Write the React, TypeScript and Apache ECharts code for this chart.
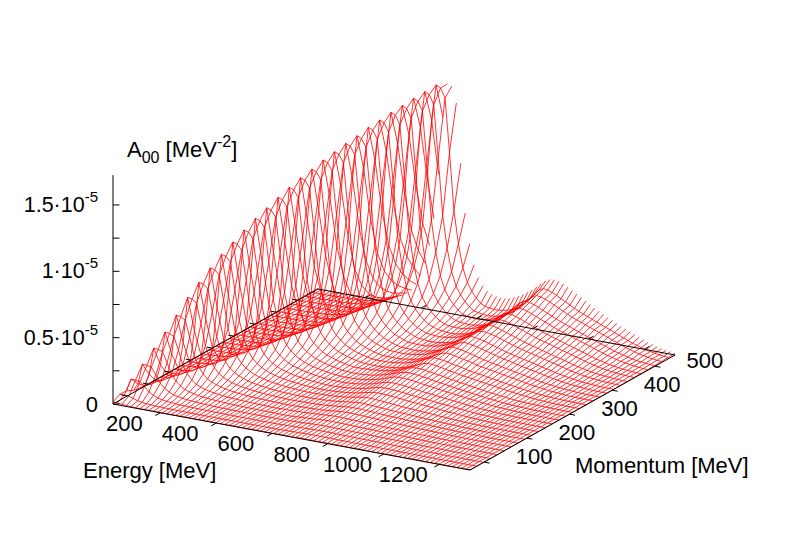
import React, { useEffect, useRef } from "react";
import * as echarts from "echarts";

const energyMin = 30, energyMax = 1310, energyStep = 16;
const momentumMin = 67, momentumMax = 547, momentumStep = 16;
const energyTicks = [200, 400, 600, 800, 1000, 1200];
const momentumTicks = [100, 200, 300, 400, 500];
const momentumMirrorTicks = [100, 150, 200, 250, 300, 350, 400, 450, 500];
const heightTicks = [0, 25, 50, 75, 100, 125, 150];
const heightLabels: [number, string, string][] = [[0, "0", ""], [50, "0.5·10", "-5"], [100, "1·10", "-5"], [150, "1.5·10", "-5"]];

// spectral function, in units of 1e-8 MeV^-2; one list per momentum, one entry per energy
const a00 = [15,14,10,7,5,3,3,2,2,1, 1,1,1,1,1,1,1,1,1,1, 1,1,1,1,1,1,1,1,1,1, 1,1,1,1,1,1,2,2,2,2, 3,3,4,4,4,4,3,3,3,3, 3,3,2,2,2,2,2,2,1,1, 1,1,1,1,1,1,1,1,1,1, 0,0,0,0,0,0,0,0,0,0, 0];
const a01 = [45,45,43,32,20,14,10,8,6,5, 4,3,3,2,2,2,2,1,1,1, 1,1,1,1,1,1,1,1,1,1, 1,1,1,1,1,1,2,3,3,4, 5,6,7,7,7,7,6,6,6,5, 5,5,4,4,4,3,3,3,3,2, 2,2,1,1,1,1,1,1,0,0, 0,0,0,0,0,0,0,0,0,0, 0];
const a02 = [41,136,135,129,98,64,45,31,23,18, 15,12,10,9,7,7,6,5,5,4, 4,3,3,3,2,2,2,2,2,2, 2,2,2,2,2,3,4,5,6,7, 8,9,10,11,11,10,10,9,9,8, 8,7,7,6,6,5,5,5,4,4, 3,3,2,2,2,1,1,1,1,1, 1,0,0,0,0,0,0,0,0,0, 0];
const a03 = [16,72,226,224,215,163,106,75,52,38, 31,25,20,17,15,12,11,9,8,7, 6,6,5,5,4,4,3,3,3,3, 3,3,3,3,4,4,6,7,8,10, 12,13,14,14,14,13,13,12,12,11, 10,10,9,8,8,7,7,6,6,5, 5,4,4,3,3,2,2,1,1,1, 1,1,0,0,0,0,0,0,0,0, 0];
const a04 = [6,29,120,324,321,308,233,152,107,75, 55,44,36,29,24,21,18,16,14,12, 10,9,8,7,6,6,5,5,4,4, 4,3,3,3,4,5,9,10,12,14, 17,19,20,20,19,19,18,17,16,15, 14,13,13,12,11,10,10,9,8,8, 7,6,5,4,4,3,3,2,2,2, 1,1,1,1,1,0,0,0,0,0, 0];
const a05 = [4,13,42,169,422,418,401,304,198,139, 97,72,57,46,38,32,27,23,20,18, 15,14,12,11,9,8,8,7,6,5, 7,7,7,8,10,10,12,14,16,19, 21,23,25,25,24,23,22,21,20,19, 17,16,15,14,13,12,11,10,9,8, 7,6,5,4,4,3,2,2,1,1, 1,1,1,1,1,1,1,1,0,0, 0];
const a06 = [4,6,18,63,227,528,523,502,380,248, 174,121,90,71,58,48,40,34,29,25, 22,19,17,15,13,12,11,10,9,8, 8,8,9,10,11,12,14,15,17,20, 24,27,30,32,32,31,30,28,27,25, 23,21,20,19,17,16,15,13,12,11, 10,9,8,7,6,5,4,3,3,2, 2,1,1,1,1,1,1,1,1,1, 1];
const a07 = [4,5,10,26,83,293,638,632,606,459, 300,211,147,108,86,70,57,48,41,35, 31,27,23,20,18,16,14,13,11,10, 11,11,12,12,13,14,17,18,21,25, 28,33,37,38,38,37,35,33,32,29, 27,25,24,23,21,19,17,16,15,13, 12,10,9,8,7,6,5,4,4,3, 2,2,2,1,1,1,1,1,1,1, 1];
const a08 = [4,5,7,13,31,109,357,729,722,693, 525,343,241,168,124,98,80,66,55,47, 40,35,31,26,23,20,18,16,15,13, 14,14,13,15,16,17,20,22,24,29, 34,38,43,46,46,43,42,40,37,35, 32,30,28,27,25,23,21,19,17,16, 14,12,11,9,8,6,5,4,4,3, 2,2,2,2,1,1,1,1,1,1, 1];
const a09 = [3,5,7,10,16,37,139,424,816,808, 775,588,384,269,188,139,110,90,73,61, 53,45,39,34,29,26,24,21,18,16, 15,15,16,18,19,20,23,26,29,34, 40,46,52,56,56,54,52,49,46,43, 40,37,35,33,31,28,26,24,22,19, 17,15,13,11,9,7,6,5,4,3, 3,2,2,2,2,1,1,1,1,1, 1];
const a10 = [3,4,6,9,13,22,45,179,492,895, 886,850,644,421,295,206,152,121,98,81, 67,58,49,43,37,32,29,25,23,20, 18,17,17,18,20,22,25,28,32,38, 44,52,59,66,68,67,66,63,60,56, 53,49,46,44,41,38,35,32,29,26, 23,21,18,15,13,10,9,7,6,4, 3,3,2,2,2,2,1,1,1,1, 1];
const a11 = [3,4,5,8,11,15,24,58,212,560, 965,955,917,695,454,318,222,164,130,106, 87,72,63,53,46,40,35,31,27,25, 22,20,19,20,22,24,27,31,36,42, 49,58,67,74,77,76,74,71,68,64, 60,56,53,49,46,43,39,36,33,30, 27,23,20,17,14,12,10,8,6,5, 4,3,3,2,2,2,1,1,1,1, 1];
const a12 = [3,4,5,7,9,12,18,31,77,258, 619,1032,1022,980,743,485,341,237,175,139, 113,93,77,67,57,50,43,37,33,29, 26,24,23,23,25,27,30,35,40,47, 55,66,76,85,88,87,85,81,77,73, 68,64,60,56,52,48,45,41,37,33, 30,26,23,19,16,13,11,9,7,5, 5,4,3,3,2,2,2,1,1,1, 1];
const a13 = [3,4,5,8,10,13,20,27,44,110, 296,681,1098,1087,1043,791,516,362,253,187, 149,121,99,82,71,60,53,46,40,35, 31,28,26,27,28,30,33,38,44,52, 61,72,84,95,100,100,98,95,90,85, 80,75,70,66,61,57,52,48,44,40, 36,32,28,24,20,17,14,12,10,8, 6,5,4,3,2,2,2,2,1,1, 1];
const a14 = [3,5,6,7,9,12,16,23,32,58, 127,347,739,1155,1143,1097,832,543,381,266, 196,156,127,104,87,75,64,55,49,42, 37,33,31,31,32,35,38,43,50,58, 68,78,90,100,108,110,108,104,99,94, 88,82,77,72,67,62,57,52,48,43, 39,34,30,26,22,18,15,12,10,8, 7,5,4,3,3,2,2,2,1,1, 1];
const a15 = [4,4,5,6,8,11,15,19,28,41, 70,157,388,793,1211,1199,1150,872,569,400, 279,206,163,133,109,91,79,67,58,51, 44,38,39,38,41,42,46,49,54,60, 66,77,90,104,114,118,117,113,108,102, 97,91,85,79,74,68,64,58,53,48, 43,38,34,29,25,21,17,14,11,9, 7,6,5,4,3,3,2,2,1,1, 1];
const a16 = [4,4,5,6,8,10,13,16,23,33, 51,82,190,442,847,1264,1251,1201,910,594, 417,291,215,171,139,114,95,82,70,61, 53,46,42,41,40,40,42,46,49,54, 60,70,81,95,109,122,130,128,123,118, 110,104,98,91,85,81,76,70,65,60, 56,50,45,40,35,31,26,22,19,14, 12,9,7,5,3,2,2,1,1,1, 1];
const a17 = [3,3,4,5,7,8,11,13,18,26, 39,62,99,223,486,907,1314,1301,1248,946, 618,434,302,223,177,145,118,99,85,72, 63,55,48,46,46,46,47,51,56,61, 68,78,90,104,121,135,143,140,136,130, 122,115,109,100,93,88,83,78,71,66, 61,55,50,44,39,33,28,24,20,15, 13,10,8,6,4,3,2,2,1,1, 1];
const a18 = [3,4,4,5,7,8,9,12,16,22, 33,47,75,122,271,542,963,1356,1342,1288, 976,637,447,312,231,183,149,122,102,88, 75,65,57,49,50,48,49,50,55,59, 66,74,85,97,114,133,147,156,155,148, 141,134,126,119,109,102,96,91,85,78, 72,66,61,55,48,42,36,31,26,22, 16,14,11,9,6,4,3,2,2,1, 1];
const a19 = [3,4,4,6,7,8,10,13,15,20, 27,38,56,87,147,308,589,1023,1402,1388, 1332,1009,659,463,322,238,189,154,126,105, 91,77,67,59,58,56,55,57,61,66, 73,81,93,107,125,145,162,172,168,164, 156,146,138,129,120,113,106,100,93,85, 79,72,66,60,52,46,40,33,28,24, 18,15,12,9,7,4,3,2,2,1, 1];
const a20 = [3,4,4,6,7,7,9,12,13,17, 22,29,43,65,101,173,361,649,1082,1442, 1428,1370,1038,678,476,332,245,195,159,130, 108,94,80,69,61,61,58,57,60,65, 71,78,87,100,116,135,158,175,186,183, 176,169,160,151,140,132,122,115,108,101, 92,85,78,71,65,58,50,43,36,31, 25,19,16,12,10,7,4,3,2,2, 1];
const a21 = [3,3,4,4,6,7,9,10,12,15, 19,25,36,50,77,122,207,400,697,1134, 1482,1467,1408,1067,697,489,341,252,200,163, 133,111,96,82,71,69,66,66,67,73, 78,86,97,110,126,148,172,191,203,199, 192,185,174,164,154,144,133,125,117,109, 102,94,87,77,70,62,55,47,39,33, 27,22,17,13,10,8,5,3,2,2, 1];
const a22 = [3,5,5,6,6,8,9,11,12,15, 18,23,30,42,61,91,144,243,440,743, 1183,1517,1502,1441,1092,713,501,349,258,205, 167,137,114,99,84,75,74,69,69,70, 77,82,91,102,117,136,158,184,206,218, 215,207,199,188,177,165,155,144,136,126, 118,110,101,93,84,76,68,60,50,42, 35,29,22,18,14,11,8,6,5,3, 2];
const a23 = [3,3,5,5,6,6,8,9,11,14, 17,20,26,36,50,73,108,171,280,467, 779,1231,1558,1542,1480,1122,732,514,358,265, 210,171,140,117,102,88,84,80,78,81, 86,92,100,112,129,148,172,200,223,236, 233,224,213,203,191,180,167,156,146,137, 128,118,109,100,90,82,73,64,53,45, 38,31,25,20,15,12,9,6,5,3, 2];
const a24 = [3,5,5,6,6,8,8,10,11,14, 17,21,25,33,45,60,87,127,199,318, 509,827,1272,1590,1574,1511,1145,747,525,366, 270,215,175,143,119,104,92,88,84,81, 84,90,97,106,119,138,157,183,215,238, 253,250,241,230,216,205,192,180,166,157, 147,138,126,117,107,98,88,78,69,59, 48,41,34,27,22,16,13,9,7,5, 4];
const a25 = [3,3,5,5,6,6,8,10,10,13, 16,20,24,31,39,54,73,102,150,228, 349,544,869,1316,1625,1609,1544,1170,764,536, 374,276,219,179,146,122,106,97,94,93, 95,100,107,117,130,150,171,199,232,257, 274,269,260,249,234,221,208,195,180,170, 158,148,138,126,116,106,95,85,74,63, 52,45,37,28,23,18,13,10,7,5, 4];
const a26 = [3,5,5,7,7,8,8,10,12,13, 15,18,23,28,36,46,63,86,121,174, 256,380,579,909,1355,1653,1636,1570,1190,777, 545,380,281,223,182,149,124,108,102,98, 96,98,105,111,123,137,158,182,211,247, 274,292,287,278,265,250,236,221,208,192, 181,168,158,147,135,124,113,101,90,78, 68,56,48,39,30,25,19,15,10,7, 5];
const a27 = [3,3,5,5,7,7,8,10,10,12, 13,17,20,25,32,42,54,72,98,135, 194,283,413,615,953,1399,1686,1669,1602,1214, 792,556,388,287,228,185,152,127,118,113, 110,112,116,124,134,150,171,197,228,266, 295,313,308,298,285,268,252,237,222,207, 193,182,168,156,145,132,120,108,96,85, 72,60,51,42,33,26,20,16,12,9, 6];
const a28 = [5,5,5,7,7,9,9,10,10,12, 14,17,21,24,29,38,48,62,82,110, 151,214,308,445,651,994,1439,1713,1696,1627, 1233,805,565,394,291,231,188,154,129,122, 116,113,115,121,129,141,158,181,208,242, 281,313,332,328,317,302,285,268,251,235, 218,205,192,180,166,154,141,128,116,102, 90,76,64,55,44,35,28,22,17,12, 9];
const a29 = [5,5,5,5,7,7,9,9,10,12, 14,16,19,23,28,35,44,54,70,92, 122,165,230,331,470,679,1027,1471,1741,1724, 1654,1253,818,574,400,296,235,192,157,140, 134,129,130,136,142,155,171,196,223,259, 302,335,355,350,338,323,304,287,268,250, 233,219,205,192,177,164,150,137,123,109, 95,82,68,58,47,37,30,23,18,13, 10];
const a30 = [5,5,7,7,7,9,9,10,10,12, 14,16,19,22,26,31,38,48,59,72, 95,121,173,242,345,483,690,1036,1467,1726, 1716,1595,1147,778,552,400,310,255,222,203, 192,188,190,198,210,226,245,268,292,320, 350,378,395,400,395,380,362,342,322,302, 282,262,242,224,207,190,174,158,143,128, 113,98,84,71,59,48,38,30,23,18, 13];
const surfaceRows = [a00,a01,a02,a03,a04,a05,a06,a07,a08,a09,a10,a11,a12,a13,a14,a15,a16,a17,a18,a19,a20,a21,a22,a23,a24,a25,a26,a27,a28,a29,a30];

// view: how the 3D box of gnuplot maps to the page
const project = (E: number, p: number, z: number): [number, number] => {
  const u = (E - energyMin) / (energyMax - energyMin);
  const v = (p - momentumMin) / (momentumMax - momentumMin);
  return [113 + 357 * u + 205 * v, 404 + 66 * u - 115 * v - z * 1.327];
};

const red = { color: "#ff0000", width: 0.8 };
const black = { color: "#000000", width: 1 };
const FONT = "'Liberation Sans', Arial, sans-serif";
const plain = { fontSize: 22, fontFamily: FONT, fill: "#000000", lineHeight: 32, verticalAlign: "middle" };
const plainTick = { ...plain, fontSize: 21.5 };
const sup = { fontSize: 16, fontFamily: FONT, fill: "#000000", lineHeight: 16, verticalAlign: "top" };
const supTick = { ...sup, fontSize: 15, lineHeight: 15 };
const sub = { fontSize: 16, fontFamily: FONT, fill: "#000000", lineHeight: 16, verticalAlign: "bottom" };

const lineSeries = (data: [number, number][], style: any, z: number) => ({
  type: "line", data, showSymbol: false, symbol: "none", silent: true, clip: false, z,
  lineStyle: style, animation: false,
});

function buildOption() {
  const series: any[] = [];
  // surface: the last momentum list only ends the constant-energy lines
  surfaceRows.slice(0, -1).forEach((row, j) => {
    const p = momentumMin + j * momentumStep;
    series.push(lineSeries(row.map((v, i) => project(energyMin + i * energyStep, p, v / 10)), red, 2));
  });
  a00.forEach((_, i) => {
    const E = energyMin + i * energyStep;
    series.push(lineSeries(surfaceRows.map((row, j) => project(E, momentumMin + j * momentumStep, row[i] / 10)), red, 2));
  });
  // box
  const c0 = project(energyMin, momentumMin, 0), c1 = project(energyMax, momentumMin, 0);
  const c2 = project(energyMax, momentumMax, 0), c3 = project(energyMin, momentumMax, 0);
  series.push(lineSeries([c0, c1, c2, c3, c0], black, 3));
  series.push(lineSeries([c0, project(energyMin, momentumMin, 172.5)], black, 3));
  heightTicks.forEach((t) => {
    const a = project(energyMin, momentumMin, t);
    series.push(lineSeries([a, [a[0] + 6.5, a[1]]], black, 3));
  });
  energyTicks.forEach((t) => {
    const a = project(t, momentumMin, 0), b = project(t, momentumMax, 0);
    series.push(lineSeries([a, [a[0] - 5, a[1] + 2.8]], black, 3));
    series.push(lineSeries([b, [b[0] + 5, b[1] - 2.8]], black, 3));
  });
  momentumTicks.forEach((t) => {
    const a = project(energyMax, t, 0);
    series.push(lineSeries([a, [a[0] + 5.5, a[1] + 1]], black, 3));
  });
  momentumMirrorTicks.forEach((t) => {
    const a = project(energyMin, t, 0);
    series.push(lineSeries([a, [a[0] - 5.5, a[1] - 1]], black, 3));
  });

  const text = (x: number, y: number, s: string, align: string, rich?: any) => ({
    type: "text", x, y, silent: true,
    style: { text: s, fontSize: 22, fontFamily: FONT, fill: "#000000", align, verticalAlign: "middle", rich },
  });
  const graphic: any[] = [];
  heightLabels.forEach(([v, a, b]) => {
    const y = project(energyMin, momentumMin, v)[1];
    graphic.push(b ? text(98, y, `{a|${a}}{u|${b}}`, "right", { a: plainTick, u: supTick }) : text(98, y, a, "right"));
  });
  energyTicks.forEach((t) => {
    const a = project(t, momentumMin, 0);
    graphic.push(text(a[0] - 36, a[1] + 10.5, String(t), "center"));
  });
  momentumTicks.forEach((t) => {
    const a = project(energyMax, t, 0);
    graphic.push(text(a[0] + 50, a[1] - 6, String(t), "center"));
  });
  graphic.push(text(83, 470, "Energy [MeV]", "left"));
  graphic.push(text(575, 465, "Momentum [MeV]", "left"));
  graphic.push(text(127, 149, "{a|A}{d|00}{a| [MeV}{u|-2}{a|]}", "left", { a: plain, d: sub, u: sup }));

  return {
    animation: false,
    backgroundColor: "#ffffff",
    grid: { left: 0, right: 0, top: 0, bottom: 0 },
    xAxis: { type: "value", min: 0, max: 789, show: false },
    yAxis: { type: "value", min: 0, max: 552, inverse: true, show: false },
    series,
    graphic,
  };
}

export default function App() {
  const ref = useRef<HTMLDivElement>(null);
  useEffect(() => {
    document.body.style.margin = "0";
    const chart = echarts.init(ref.current!, undefined, { renderer: "svg" });
    chart.setOption(buildOption() as any);
    return () => chart.dispose();
  }, []);
  return <div ref={ref} style={{ width: 789, height: 552 }} />;
}
